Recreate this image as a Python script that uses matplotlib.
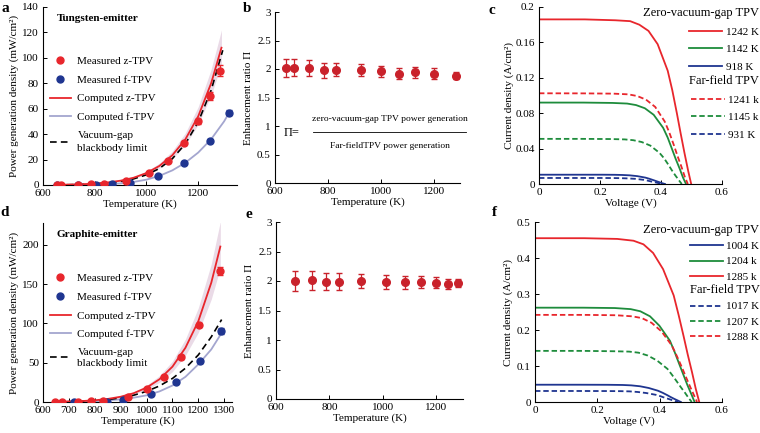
import matplotlib
matplotlib.use("Agg")
import matplotlib.pyplot as plt
from matplotlib.ticker import FormatStrFormatter
from matplotlib.lines import Line2D

plt.rcParams['font.family'] = ['Liberation Serif', 'DejaVu Serif']
plt.rcParams['font.size'] = 8
plt.rcParams['xtick.direction'] = 'in'
plt.rcParams['ytick.direction'] = 'in'
plt.rcParams['axes.linewidth'] = 0.8

RED = '#e8262c'
NAVY = '#1f3590'
LIGHT = '#a4a6cf'
BAND = '#e3cfe0'
DRED = '#c9222b'
GREEN = '#1e8c3c'

# ---- panel a : tungsten emitter ----
a_zT = [655, 668, 735, 787, 835, 919, 1010, 1085, 1145, 1200, 1245, 1285]
a_zP = [0.2, 0.2, 0.3, 0.4, 0.9, 3.0, 9.5, 19, 33, 50, 70, 90]
a_zErr = [0, 0, 0, 0, 0, 0, 0.5, 0.8, 1.2, 1.8, 2.8, 4.0]
a_fT = [655, 735, 805, 868, 935, 1045, 1145, 1245, 1320]
a_fP = [0.0, 0.1, 0.2, 0.5, 1.5, 7, 17, 35, 57]
a_fErr = [0, 0, 0, 0, 0, 0.4, 0.8, 1.2, 2.2]

a_cT = [650, 700, 750, 800, 850, 900, 950, 1000, 1050, 1100, 1150, 1200, 1250, 1290]
a_cz = [0.15, 0.3, 0.6, 1.1, 2.0, 3.4, 5.7, 9.4, 15, 23.4, 35.8, 54, 80, 108]
a_cz_hi = [0.17, 0.34, 0.7, 1.25, 2.3, 3.9, 6.5, 10.7, 17.2, 26.7, 40.8, 61.5, 91, 122]
a_cz_lo = [0.13, 0.26, 0.53, 0.97, 1.75, 3.0, 5.0, 8.3, 13.2, 20.6, 31.5, 47.5, 70.5, 95]
a_bbT = [650, 700, 750, 800, 850, 900, 950, 1000, 1050, 1100, 1150, 1200, 1250, 1295]
a_bb = [0.1, 0.23, 0.45, 0.86, 1.6, 2.8, 4.8, 8.0, 13, 20.7, 32.3, 49.5, 74.5, 106]
a_cfT = [650, 700, 750, 800, 850, 900, 950, 1000, 1050, 1100, 1150, 1200, 1250, 1300, 1320]
a_cf = [0.05, 0.1, 0.2, 0.4, 0.7, 1.3, 2.4, 4.2, 7.2, 11.5, 17.5, 25.5, 36, 50, 57]

# ---- panel b : enhancement ratio (tungsten) ----
b_T = [642, 672, 729, 786, 831, 926, 1002, 1070, 1131, 1203, 1286]
b_R = [2.02, 2.02, 2.01, 1.98, 1.99, 1.98, 1.96, 1.92, 1.94, 1.92, 1.88]
b_err = [0.16, 0.15, 0.14, 0.13, 0.12, 0.11, 0.10, 0.10, 0.09, 0.09, 0.06]

# ---- panel c : J-V curves (tungsten) ----
c_V = {
    '1242 K': [0, .150, .250, .299, .329, .359, .389, .422, .437, .452, .464, .477, .489, .499],
    '1142 K': [0, .145, .241, .289, .318, .347, .376, .407, .422, .436, .448, .461, .472, .482],
    '918 K': [0, .124, .207, .248, .273, .297, .322, .349, .361, .374, .384, .395, .405, .413],
    '1241 k': [0, .146, .244, .293, .322, .351, .381, .412, .427, .442, .454, .467, .478, .488],
    '1145 k': [0, .140, .234, .281, .309, .337, .365, .395, .410, .424, .435, .447, .459, .468],
    '931 K': [0, .122, .203, .244, .268, .292, .317, .343, .355, .367, .378, .388, .398, .406],
}
c_J = {
    '1242 K': [.186, .186, .185, .184, .180, .173, .158, .128, .106, .080, .058, .035, .015, 0],
    '1142 K': [.092, .092, .0916, .0909, .0892, .0856, .0782, .0635, .0524, .0396, .0285, .0175, .0074, 0],
    '918 K': [.0105, .0105, .0105, .0104, .0102, .0098, .0089, .0072, .0060, .0045, .0033, .0020, .0008, 0],
    '1241 k': [.1025, .1024, .1021, .1013, .0994, .0953, .0871, .0707, .0584, .0441, .0318, .0195, .0082, 0],
    '1145 k': [.051, .051, .0508, .0504, .0495, .0474, .0434, .0352, .0291, .0219, .0158, .0097, .0041, 0],
    '931 K': [.0068, .0068, .0068, .0067, .0066, .0063, .0058, .0047, .0039, .0029, .0021, .0013, .0005, 0],
}
c_near = ['1242 K', '1142 K', '918 K']
c_far = ['1241 k', '1145 k', '931 K']
c_colors = [RED, GREEN, NAVY]

# ---- panel d : graphite emitter ----
d_zT = [645, 675, 734, 786, 832, 930, 1001, 1068, 1133, 1203, 1285]
d_zP = [0.3, 0.3, 0.5, 0.8, 1.5, 7, 17, 32, 57, 98, 167]
d_zErr = [0, 0, 0, 0, 0, 0, 0.8, 1.2, 2.0, 3.0, 5.5]
d_fT = [721, 849, 910, 1017, 1115, 1207, 1288]
d_fP = [0.2, 0.5, 3, 10, 26, 52, 90]
d_fErr = [0, 0, 0, 0.6, 1.2, 2.0, 4.0]

d_cT = [650, 700, 750, 800, 850, 900, 950, 1000, 1050, 1100, 1150, 1200, 1250, 1285]
d_cz = [0.3, 0.6, 1.2, 2.2, 3.9, 6.7, 11.2, 18.3, 29, 45, 69, 103, 152, 198]
d_cz_hi = [0.35, 0.7, 1.4, 2.55, 4.5, 7.8, 13, 21.2, 33.6, 52, 80, 120, 176, 230]
d_cz_lo = [0.26, 0.52, 1.03, 1.9, 3.35, 5.8, 9.6, 15.7, 25, 38.7, 59.3, 88.6, 131, 171]
d_bbT = [650, 700, 750, 800, 850, 900, 950, 1000, 1050, 1100, 1150, 1200, 1250, 1290]
d_bb = [0.2, 0.45, 0.9, 1.7, 3.1, 5.3, 8.6, 13.5, 20.5, 30, 43, 60, 83, 105]
d_cfT = [700, 750, 800, 850, 900, 950, 1000, 1050, 1100, 1150, 1200, 1250, 1290]
d_cf = [0.3, 0.6, 1.1, 2, 3.4, 5.5, 8.5, 13.5, 21, 32, 48, 67, 88]

# ---- panel e : enhancement ratio (graphite) ----
e_T = [670, 734, 786, 834, 920, 1011, 1083, 1144, 1198, 1243, 1283]
e_R = [2.00, 2.01, 1.99, 1.99, 2.00, 1.99, 1.98, 1.98, 1.97, 1.95, 1.96]
e_err = [0.17, 0.16, 0.15, 0.15, 0.12, 0.12, 0.11, 0.10, 0.09, 0.08, 0.07]

# ---- panel f : J-V curves (graphite) ----
f_V = {
    '1004 K': [0, .140, .234, .281, .309, .337, .365, .395, .410, .424, .435, .447, .459, .468],
    '1204 k': [0, .154, .256, .307, .338, .369, .399, .433, .448, .463, .476, .489, .502, .512],
    '1285 k': [0, .158, .264, .316, .348, .379, .411, .445, .461, .477, .490, .504, .516, .527],
    '1017 K': [0, .138, .230, .275, .303, .330, .358, .388, .402, .415, .427, .439, .450, .459],
    '1207 K': [0, .151, .252, .302, .332, .362, .392, .425, .440, .455, .468, .481, .493, .503],
    '1288 K': [0, .156, .260, .312, .343, .374, .406, .439, .455, .471, .484, .497, .510, .520],
}
f_J = {
    '1004 K': [.048, .048, .0478, .0473, .0462, .0437, .0389, .0312, .0254, .0192, .0139, .0086, .0038, 0],
    '1204 k': [.262, .262, .261, .258, .252, .238, .212, .170, .139, .105, .076, .047, .021, 0],
    '1285 k': [.455, .455, .453, .448, .438, .414, .369, .296, .241, .182, .132, .082, .036, 0],
    '1017 K': [.0306, .0306, .0304, .0301, .0295, .0278, .0248, .0199, .0162, .0122, .0089, .0055, .0024, 0],
    '1207 K': [.142, .142, .141, .140, .137, .129, .115, .092, .075, .057, .041, .026, .011, 0],
    '1288 K': [.242, .242, .241, .238, .233, .220, .196, .157, .128, .097, .070, .044, .019, 0],
}
f_near = ['1004 K', '1204 k', '1285 k']
f_far = ['1017 K', '1207 K', '1288 K']
f_colors = [NAVY, GREEN, RED]

W, H = 760, 433
fig = plt.figure(figsize=(7.6, 4.33), dpi=100)


def box(l, t, r, b):
    return [l / W, (H - b) / H, (r - l) / W, (b - t) / H]


def clean(ax):
    for s in ['top', 'right']:
        ax.spines[s].set_visible(False)
    ax.tick_params(length=3, width=0.7, labelsize=8, pad=3)


def power_panel(ax, zT, zP, zErr, fT, fP, fErr, cT, cz, lo, hi, bbT, bb, cfT, cf, title,
                anchor_y, gap, lsp):
    ax.fill_between(cT, lo, hi, color=BAND, alpha=0.75, lw=0)
    l_cf, = ax.plot(cfT, cf, color=LIGHT, lw=1.3, zorder=2)
    l_bb, = ax.plot(bbT, bb, color='k', lw=1.2, ls=(0, (4, 2.5)), zorder=3)
    l_cz, = ax.plot(cT, cz, color=RED, lw=1.3, zorder=3)
    ax.errorbar(fT, fP, yerr=fErr, fmt='o', color=NAVY, ms=5, capsize=2, elinewidth=0.8, zorder=4)
    ax.errorbar(zT, zP, yerr=zErr, fmt='o', color=RED, ms=5, capsize=2, elinewidth=0.8, zorder=5)
    m_z = Line2D([], [], ls='none', marker='o', color=RED, ms=5)
    m_f = Line2D([], [], ls='none', marker='o', color=NAVY, ms=5)
    ax.set_xlabel('Temperature (K)', fontsize=8, labelpad=1)
    ax.set_ylabel('Power generation density (mW/cm²)', fontsize=8, labelpad=2)
    ax.text(0.07, 0.96, title, transform=ax.transAxes, fontsize=8, fontweight='bold', va='top')
    leg = ax.legend([m_z, m_f, l_cz, l_cf, l_bb],
                    ['Measured z-TPV', 'Measured f-TPV', 'Computed z-TPV', 'Computed f-TPV',
                     'Vacuum-gap\nblackbody limit'],
                    loc='upper left', bbox_to_anchor=(0.0, anchor_y), frameon=False, fontsize=8,
                    handlelength=1.9, handletextpad=0.6, labelspacing=gap, borderaxespad=0.2)
    leg.get_texts()[-1].set_linespacing(lsp)
    clean(ax)


def ratio_panel(ax, T, R, err):
    ax.errorbar(T, R, yerr=err, fmt='o', color=DRED, ms=5.5, capsize=2.5, elinewidth=0.9)
    ax.set_xlim(600, 1300)
    ax.set_ylim(0, 3)
    ax.set_xticks([600, 800, 1000, 1200])
    ax.set_yticks([0, 0.5, 1, 1.5, 2, 2.5, 3])
    ax.yaxis.set_major_formatter(FormatStrFormatter('%g'))
    ax.set_xlabel('Temperature (K)', fontsize=8, labelpad=1)
    ax.set_ylabel('Enhancement ratio Π', fontsize=8, labelpad=3)
    clean(ax)


def jv_panel(ax, V, J, near, far, colors, ymax, yticks, anchor, spacing, pad):
    for k, c in zip(near, colors):
        ax.plot(V[k], J[k], color=c, lw=1.3, label=k)
    for k, c in zip(far, colors):
        ax.plot(V[k], J[k], color=c, lw=1.3, ls=(0, (3, 1.6)), label=k)
    ax.set_xlim(0, 0.6)
    ax.set_ylim(0, ymax)
    ax.set_xticks([0, 0.2, 0.4, 0.6])
    ax.set_yticks(yticks)
    ax.xaxis.set_major_formatter(FormatStrFormatter('%g'))
    ax.yaxis.set_major_formatter(FormatStrFormatter('%g'))
    ax.set_xlabel('Voltage (V)', fontsize=8, labelpad=1)
    ax.set_ylabel('Current density (A/cm²)', fontsize=8, labelpad=pad)
    h, l = ax.get_legend_handles_labels()
    lg1 = ax.legend(h[:3], l[:3], title='Zero-vacuum-gap TPV', alignment='right',
                    loc='upper right', bbox_to_anchor=anchor[0], frameon=False, fontsize=8,
                    title_fontsize=9, handlelength=3.0, handletextpad=0.3, labelspacing=spacing,
                    borderaxespad=0, borderpad=0)
    ax.add_artist(lg1)
    ax.legend(h[3:], l[3:], title='Far-field TPV', alignment='right',
              loc='upper right', bbox_to_anchor=anchor[1], frameon=False, fontsize=8,
              title_fontsize=9, handlelength=3.0, handletextpad=0.3, labelspacing=spacing,
              borderaxespad=0, borderpad=0)
    clean(ax)


# a
ax_a = fig.add_axes(box(43, 7, 237, 185))
power_panel(ax_a, a_zT, a_zP, a_zErr, a_fT, a_fP, a_fErr, a_cT, a_cz, a_cz_lo, a_cz_hi,
            a_bbT, a_bb, a_cfT, a_cf, 'Tungsten-emitter', 0.76, 0.8, 1.6)
ax_a.set_xlim(600, 1350)
ax_a.set_ylim(0, 140)
ax_a.set_xticks([600, 800, 1000, 1200])
ax_a.set_yticks(range(0, 141, 20))

# b
ax_b = fig.add_axes(box(275, 12, 460, 183))
ratio_panel(ax_b, b_T, b_R, b_err)
ax_b.text(0.09, 0.29, 'Π=', transform=ax_b.transAxes, fontsize=9, va='center', ha='center')
ax_b.text(0.62, 0.372, 'zero-vacuum-gap TPV power generation', transform=ax_b.transAxes,
          fontsize=6.8, va='center', ha='center')
ax_b.text(0.62, 0.218, 'Far-fieldTPV power generation', transform=ax_b.transAxes,
          fontsize=6.8, va='center', ha='center')
ax_b.add_line(Line2D([0.205, 1.03], [0.298, 0.298], transform=ax_b.transAxes, color='k',
                     lw=0.6, clip_on=False))

# c
ax_c = fig.add_axes(box(539, 7, 722, 184))
jv_panel(ax_c, c_V, c_J, c_near, c_far, c_colors, 0.2, [0, 0.04, 0.08, 0.12, 0.16, 0.2],
         [(1.2, 1.0), (1.2, 0.615)], 0.7, 1)

# d
ax_d = fig.add_axes(box(43, 223, 232, 402))
power_panel(ax_d, d_zT, d_zP, d_zErr, d_fT, d_fP, d_fErr, d_cT, d_cz, d_cz_lo, d_cz_hi,
            d_bbT, d_bb, d_cfT, d_cf, 'Graphite-emitter', 0.755, 0.8, 1.2)
ax_d.set_xlim(600, 1330)
ax_d.set_ylim(0, 228)
ax_d.set_xticks(range(600, 1301, 100))
ax_d.set_yticks(range(0, 201, 50))

# e
ax_e = fig.add_axes(box(276, 222, 463, 399))
ratio_panel(ax_e, e_T, e_R, e_err)

# f
ax_f = fig.add_axes(box(535, 222, 722, 402))
jv_panel(ax_f, f_V, f_J, f_near, f_far, f_colors, 0.5, [0, 0.1, 0.2, 0.3, 0.4, 0.5],
         [(1.2, 0.99), (1.2, 0.655)], 0.5, 3)

for lab, x, y in [('a', 5, 8), ('b', 247, 9), ('c', 492, 10),
                  ('d', 5, 212), ('e', 249, 214), ('f', 494, 212)]:
    fig.text(x / W, 1 - y / H, lab, fontsize=11, fontweight='bold', va='center', ha='center')

fig.savefig('out.png', dpi=100)
